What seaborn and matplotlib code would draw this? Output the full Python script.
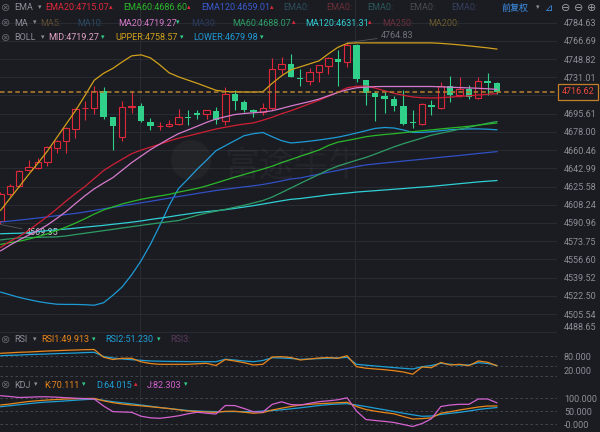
import matplotlib
matplotlib.use('Agg')
import matplotlib.pyplot as plt
from matplotlib.ticker import NullLocator
from matplotlib.patches import Ellipse
import numpy as np
import pandas as pd
import seaborn as sns

# ---- candle data (54 bars) ----
opens = [4592.35, 4618.87, 4625.82, 4641.07, 4643.65, 4648.71, 4662.51, 4668.85, 4680.79, 4701.2,
         4701.06, 4717.15, 4691.96, 4673.08, 4702.5, 4702.60, 4687.14, 4683.8, 4683.96, 4685.89,
         4692.35, 4696.22, 4695.54, 4698.44, 4688.11, 4714.91, 4707.16, 4699.41, 4696.79, 4701.06,
         4738.95, 4743.82, 4730.76, 4727.84, 4736.03, 4742.46, 4749.30, 4745.78, 4762.71, 4728.52,
         4715.59, 4712.29, 4709.78, 4703.28, 4687.53, 4685.60, 4704.25, 4701.06, 4722.97, 4713.26,
         4719.77, 4710.74, 4727.55, 4725.31]
highs = [4620.77, 4628.38, 4641.74, 4651.30, 4653.21, 4664.05, 4670.49, 4682.71, 4701.06, 4708.13,
         4722.68, 4721.03, 4692.26, 4708.13, 4717.15, 4706.19, 4691.40, 4687.14, 4689.75, 4700.09,
         4699.41, 4699.41, 4699.41, 4702.02, 4721.42, 4718.12, 4709.10, 4700.09, 4706.19, 4749.70,
         4750.67, 4753.60, 4738.95, 4739.93, 4743.40, 4751.26, 4757.82, 4764.83, 4763.40, 4728.80,
         4717.15, 4716.56, 4712.97, 4718.80, 4698.73, 4706.19, 4709.10, 4725.90, 4732.41, 4731.73,
         4723.65, 4731.73, 4735.05, 4726.28]
lows = [4589.51, 4616.30, 4625.53, 4640.12, 4642.70, 4644.89, 4657.71, 4657.71, 4672.12, 4689.75,
        4695.54, 4690.43, 4660.88, 4668.85, 4696.22, 4687.82, 4680.11, 4680.11, 4682.71, 4684.92,
        4684.92, 4690.43, 4690.43, 4685.89, 4684.92, 4699.41, 4697.47, 4692.35, 4694.57, 4699.41,
        4734.37, 4730.90, 4722.00, 4723.65, 4726.87, 4734.07, 4722.00, 4741.48, 4726.87, 4704.25,
        4688.11, 4696.22, 4697.76, 4684.92, 4681.75, 4684.92, 4693.89, 4700.09, 4706.87, 4711.71,
        4709.78, 4710.07, 4713.94, 4714.62]
closes = [4618.87, 4625.82, 4640.12, 4644.31, 4648.71, 4663.09, 4668.85, 4681.75, 4700.09, 4701.5,
          4717.15, 4692.35, 4683.28, 4702.02, 4702.8, 4688.11, 4683.28, 4684.1, 4685.89, 4691.96,
          4691.00, 4694.57, 4698.73, 4689.75, 4714.91, 4707.45, 4699.41, 4697.18, 4700.67, 4738.95,
          4743.82, 4731.15, 4729.20, 4736.03, 4743.14, 4749.70, 4746.37, 4762.71, 4729.20, 4715.59,
          4711.71, 4710.07, 4703.28, 4685.60, 4686.56, 4704.93, 4701.64, 4722.68, 4713.26, 4719.77,
          4711.71, 4727.84, 4725.60, 4716.62]

# ---- overlays ----
boll_upper = [4602.75, 4614.13, 4625.52, 4636.96, 4647.95, 4659.44, 4672.41, 4685.40, 4698.44, 4712.97,
              4728.03, 4734.85, 4739.73, 4746.07, 4751.94, 4752.92, 4749.99, 4743.14, 4735.34, 4731.44,
              4728.23, 4725.11, 4721.71, 4718.31, 4717.15, 4716.86, 4716.66, 4716.57, 4716.86, 4725.11,
              4732.41, 4738.27, 4741.19, 4744.12, 4747.05, 4753.90, 4760.27, 4764.18, 4764.67, 4764.67,
              4764.67, 4764.67, 4764.67, 4764.67, 4764.67, 4764.67, 4764.67, 4764.18, 4763.50, 4762.71,
              4761.73, 4760.75, 4759.76, 4758.57]
boll_lower = [4525.98, 4523.47, 4520.96, 4519.01, 4517.16, 4515.76, 4514.65, 4514.46, 4514.46, 4514.18,
              4513.72, 4516.04, 4523.01, 4530.91, 4542.10, 4555.20, 4570.67, 4588.57, 4607.48, 4623.63,
              4632.68, 4642.22, 4650.82, 4659.92, 4664.72, 4669.53, 4674.33, 4676.25, 4677.42, 4673.36,
              4669.53, 4667.32, 4668.08, 4669.05, 4670.20, 4671.45, 4672.88, 4674.81, 4676.93, 4679.15,
              4681.36, 4682.23, 4681.75, 4679.82, 4677.51, 4677.51, 4678.18, 4679.15, 4680.11, 4680.50,
              4680.88, 4680.88, 4680.59, 4679.98]
ma20 = [4564.57, 4569.92, 4574.91, 4579.42, 4583.86, 4589.04, 4595.19, 4601.81, 4609.38, 4616.69,
        4623.35, 4628.86, 4634.10, 4641.26, 4648.43, 4654.64, 4660.88, 4666.16, 4671.45, 4676.25,
        4679.82, 4683.47, 4687.24, 4690.43, 4692.63, 4694.76, 4695.73, 4696.51, 4697.18, 4698.44,
        4700.67, 4703.09, 4705.22, 4707.35, 4709.78, 4712.97, 4716.08, 4718.80, 4720.74, 4721.42,
        4721.91, 4722.00, 4722.00, 4722.00, 4722.00, 4722.00, 4722.00, 4721.71, 4721.32, 4720.93,
        4720.64, 4720.25, 4719.77, 4719.27]
ema20 = [4567.85, 4573.50, 4578.19, 4583.86, 4590.46, 4597.07, 4604.17, 4611.76, 4618.87, 4625.53,
         4633.15, 4640.79, 4646.51, 4651.78, 4657.04, 4660.40, 4663.28, 4666.16, 4669.24, 4671.93,
         4674.04, 4676.25, 4678.57, 4680.78, 4682.51, 4684.15, 4685.60, 4686.66, 4689.27, 4692.15,
         4695.54, 4698.44, 4701.83, 4705.22, 4708.62, 4712.48, 4716.37, 4720.74, 4722.20, 4722.49,
         4720.45, 4717.83, 4715.40, 4713.46, 4711.81, 4711.04, 4710.84, 4711.04, 4711.71, 4712.29,
         4712.97, 4713.75, 4714.43, 4715.07]
ema60 = [4570.67, 4572.27, 4573.69, 4575.66, 4578.00, 4580.74, 4583.76, 4587.06, 4590.83, 4594.90,
         4599.34, 4603.23, 4606.16, 4609.00, 4611.28, 4613.37, 4615.08, 4616.59, 4618.11, 4620.21,
         4622.01, 4623.82, 4626.19, 4628.96, 4631.72, 4634.48, 4637.06, 4639.64, 4642.22, 4645.07,
         4648.43, 4651.49, 4654.54, 4657.52, 4660.59, 4664.91, 4668.08, 4669.72, 4671.45, 4673.36,
         4674.52, 4675.48, 4676.25, 4677.22, 4678.18, 4679.15, 4679.92, 4680.88, 4681.75, 4682.51,
         4683.47, 4684.53, 4685.60, 4686.60]
ma60 = [4574.91, 4575.94, 4576.88, 4577.16, 4577.35, 4577.63, 4577.82, 4578.67, 4579.99, 4581.21,
        4582.44, 4583.67, 4584.89, 4586.21, 4587.44, 4588.66, 4589.89, 4591.02, 4592.16, 4593.29,
        4595.66, 4598.20, 4600.38, 4602.09, 4603.89, 4605.78, 4607.77, 4609.95, 4612.23, 4615.55,
        4619.82, 4624.20, 4628.57, 4632.87, 4637.15, 4641.55, 4645.07, 4647.95, 4650.73, 4653.41,
        4656.66, 4660.11, 4663.56, 4666.64, 4669.34, 4672.02, 4674.81, 4676.74, 4678.66, 4680.59,
        4682.51, 4684.44, 4686.37, 4688.07]
ema120 = [4591.69, 4592.73, 4593.67, 4594.62, 4595.66, 4596.69, 4597.82, 4598.96, 4600.00, 4601.33,
          4602.85, 4604.36, 4605.78, 4607.20, 4608.62, 4610.04, 4611.47, 4612.99, 4614.51, 4616.02,
          4617.45, 4618.97, 4620.40, 4621.82, 4622.97, 4624.11, 4625.24, 4626.29, 4627.53, 4629.14,
          4630.96, 4632.77, 4633.82, 4635.62, 4637.44, 4639.25, 4640.98, 4642.79, 4644.60, 4646.22,
          4647.18, 4648.14, 4649.00, 4649.96, 4650.82, 4651.68, 4652.64, 4653.59, 4654.45, 4655.31,
          4656.27, 4657.23, 4658.10, 4659.01]
ma120 = [4580.74, 4581.02, 4581.21, 4581.87, 4582.72, 4583.67, 4584.52, 4585.18, 4586.03, 4586.97,
         4587.81, 4588.66, 4589.70, 4590.64, 4591.69, 4592.82, 4594.24, 4595.47, 4596.78, 4598.20,
         4599.43, 4600.76, 4601.71, 4602.56, 4603.51, 4604.74, 4606.06, 4607.39, 4608.91, 4610.43,
         4611.95, 4613.37, 4614.13, 4615.27, 4616.40, 4617.63, 4618.49, 4619.35, 4620.30, 4620.97,
         4621.63, 4622.30, 4622.97, 4623.63, 4624.40, 4625.06, 4625.72, 4626.58, 4627.43, 4628.29,
         4629.14, 4630.00, 4630.67, 4631.31]

# ---- oscillators ----
rsi1 = [88.2, 89.8, 91.3, 92.2, 93.7, 95.2, 96.2, 97.4, 98.3, 99.2, 99.8, 76.3, 69.3, 73.0, 73.0,
        62.3, 57.1, 54.7, 54.7, 54.7, 54.7, 56.2, 57.7, 51.0, 69.3, 64.8, 59.6, 52.6, 54.7, 77.0,
        77.9, 75.4, 67.8, 70.9, 73.9, 75.4, 73.0, 80.9, 47.4, 42.8, 40.4, 38.2, 35.2, 31.2, 24.5,
        46.5, 44.3, 60.2, 52.6, 54.7, 50.4, 64.8, 60.8, 49.9]
rsi2 = [80.9, 82.1, 83.0, 84.3, 85.2, 86.1, 87.3, 88.2, 89.1, 90.4, 91.3, 78.5, 73.9, 70.9, 68.7,
        66.9, 64.8, 64.1, 63.5, 63.2, 62.9, 62.6, 62.6, 62.6, 70.2, 67.8, 64.8, 62.6, 66.3, 74.8,
        73.9, 72.4, 69.9, 70.9, 72.1, 73.3, 73.9, 76.0, 54.7, 52.0, 49.5, 47.1, 44.6, 42.5, 40.4,
        47.4, 51.0, 57.7, 54.7, 52.6, 52.6, 59.6, 57.1, 51.2]
k_vals = [73.9, 77.8, 82.9, 87.5, 90.7, 93.4, 95.3, 97.3, 98.4, 99.2, 99.6, 90.3, 82.9, 77.8, 73.9,
          70.8, 67.3, 63.8, 60.3, 55.3, 50.6, 48.6, 46.7, 45.5, 49.4, 49.8, 45.9, 42.0, 44.4, 54.5,
          61.5, 68.1, 73.9, 76.7, 79.0, 80.9, 82.9, 84.4, 68.1, 56.4, 49.8, 44.4, 39.7, 29.2, 19.5,
          21.0, 24.1, 42.0, 47.9, 54.5, 60.3, 66.1, 70.0, 70.1]
d_vals = [67.3, 71.2, 75.1, 79.0, 82.9, 85.6, 87.5, 89.9, 92.6, 94.9, 96.9, 92.2, 86.8, 82.5, 78.6,
          73.9, 69.3, 64.2, 59.9, 56.4, 52.5, 50.6, 49.0, 48.2, 48.2, 48.2, 48.2, 48.2, 50.2, 52.5,
          55.3, 59.1, 63.0, 67.3, 72.0, 75.5, 77.8, 79.0, 73.9, 68.1, 61.5, 55.3, 48.6, 42.0, 35.8,
          30.0, 31.1, 37.0, 41.6, 45.5, 50.6, 56.4, 60.7, 64.0]
j_vals = [110.1, 107.0, 103.1, 104.3, 105.8, 105.8, 104.3, 102.3, 100.4, 98.8, 97.3, 70.0, 48.2, 46.7,
          45.5, 30.4, 24.1, 22.2, 26.5, 31.9, 39.7, 45.9, 42.0, 38.9, 72.0, 71.6, 60.3, 47.5, 46.3,
          76.3, 86.4, 75.5, 73.9, 80.5, 86.8, 90.3, 94.2, 101.9, 50.6, 17.5, 13.6, 10.1, 5.8, -1.9,
          -9.7, 1.9, 20.6, 68.1, 73.9, 76.7, 76.7, 97.3, 97.3, 82.3]

price_ticks = [4784.63, 4766.69, 4748.82, 4731.01, 4695.61, 4678.00, 4660.46, 4642.99, 4625.58,
               4608.24, 4590.96, 4573.75, 4556.60, 4539.52, 4522.50, 4505.54, 4488.65]
hidden_tick = 4713.27
last_price = 4716.62
max_label = '4764.83'
min_label = '4569.35'

W, H = 600, 432
bg = '#1b1c21'
grid_c = '#2a2c33'
txt_c = '#8c8f98'
red = '#e0283c'
green = '#30cf8a'

sns.set_theme(style='dark', rc={'axes.facecolor': bg, 'figure.facecolor': bg,
                                'axes.edgecolor': bg, 'axes.grid': False})
plt.rcParams['font.family'] = ['Roboto', 'DejaVu Sans', 'Noto Sans CJK SC']

fig = plt.figure(figsize=(6, 4.32), dpi=100)
pw = 557 / W


def rect(top, bottom):
    return [0, 1 - bottom / H, pw, (bottom - top) / H]


ax = fig.add_axes(rect(0, 334))
ax_rsi = fig.add_axes(rect(334, 378))
ax_kdj = fig.add_axes(rect(378, 432))

idx = np.arange(len(opens))
df = pd.DataFrame({'o': opens, 'h': highs, 'l': lows, 'c': closes}, index=idx)

for a in (ax, ax_rsi, ax_kdj):
    a.set_facecolor(bg)
    for s in a.spines.values():
        s.set_visible(False)
    a.set_xlim(-0.053, 59.4)
    a.set_xticks([])
    for xv in (14.89, 37.84):
        a.axvline(xv, color=grid_c, lw=0.7, zorder=0)

# ---- main panel ----
ax.set_yscale('log')
ax.set_ylim(4487.0, 4807.0)
for t in price_ticks + [hidden_tick]:
    ax.axhline(t, color=grid_c, lw=0.7, zorder=0)

bw = 0.68
for i, r in df.iterrows():
    if r.c >= r.o:
        ax.bar(i, r.c - r.o, bottom=r.o, width=bw, facecolor=bg, edgecolor=red, lw=0.8, zorder=3)
        ax.vlines(i, r.c, r.h, color=red, lw=0.8, zorder=3)
        ax.vlines(i, r.l, r.o, color=red, lw=0.8, zorder=3)
    else:
        ax.vlines(i, r.l, r.h, color=green, lw=0.8, zorder=3)
        ax.bar(i, r.o - r.c, bottom=r.c, width=bw, color=green, lw=0, zorder=3)

lines = [(boll_upper, '#d1a01c'), (boll_lower, '#1e9ad6'), (ma120, '#2fcfd4'),
         (ema120, '#3050c4'), (ma60, '#2e9c66'), (ema60, '#2ab82a'),
         (ema20, '#cf1f35'), (ma20, '#d67bcc')]
for vals, col in lines:
    sns.lineplot(x=idx, y=vals, ax=ax, color=col, lw=0.9, legend=False, zorder=4)

ax.axhline(last_price, color='#b5812f', lw=1.1, ls=(0, (3, 2)), zorder=5)

ax.yaxis.tick_right()
ax.set_yticks(price_ticks)
ax.set_yticklabels([f'{t:.2f}' for t in price_ticks])
ax.yaxis.set_minor_locator(NullLocator())
ax.tick_params(axis='y', length=0, pad=5, labelsize=6.5, labelcolor=txt_c)
ax.get_yticklabels()[-1].set_va('bottom')
ax.set_xlabel('')
ax.set_ylabel('')

imax = int(np.argmax(highs))
ax.annotate(max_label, xy=(imax, highs[imax]), xytext=(24, 5), textcoords='offset points',
            color='#6f727b', fontsize=6.5, va='center',
            arrowprops=dict(arrowstyle='-', color='#55585f', lw=0.6, shrinkA=0, shrinkB=0))
ax.annotate(min_label, xy=(0, lows[0]), xytext=(18, -6), textcoords='offset points',
            color='#c9cbd0', fontsize=6.5, va='center',
            arrowprops=dict(arrowstyle='-', color='#55585f', lw=0.6, shrinkA=0, shrinkB=0))

# faint watermark
fig.patches.append(Ellipse((191 / W, 1 - 160 / H), 40 / W, 40 / H, transform=fig.transFigure,
                           fc='white', alpha=0.035, lw=0))
fig.text(294 / W, 1 - 166 / H, '富途牛牛', color='white', alpha=0.04, fontsize=25,
         ha='center', va='center', family=['Noto Sans CJK SC'])

fig.text(578 / W, 1 - 92 / H, f'{last_price:.2f}', color='#ef4a3c', fontsize=6.5,
         ha='center', va='center',
         bbox=dict(boxstyle='square,pad=0.35', fc=bg, ec='#c47f2c', lw=0.9))

# ---- RSI panel ----
ax_rsi.set_ylim(12.9, 147.1)
for lv in (80, 50, 20):
    ax_rsi.axhline(lv, color='#4a4c54', lw=0.6, ls=(0, (3, 3)), zorder=0)
sns.lineplot(x=idx, y=rsi2, ax=ax_rsi, color='#1e9fd6', lw=0.9, legend=False)
sns.lineplot(x=idx, y=rsi1, ax=ax_rsi, color='#e8861c', lw=0.9, legend=False)
ax_rsi.yaxis.tick_right()
ax_rsi.set_yticks([80, 20])
ax_rsi.set_yticklabels(['80.000', '20.000'])
ax_rsi.tick_params(axis='y', length=0, pad=5, labelsize=6.5, labelcolor=txt_c)
ax_rsi.get_yticklabels()[-1].set_va('bottom')
ax_rsi.set_xlabel('')
ax_rsi.set_ylabel('')

# ---- KDJ panel ----
ax_kdj.set_ylim(-31.1, 179.0)
for lv in (100, 50, 0):
    ax_kdj.axhline(lv, color='#4a4c54', lw=0.6, ls=(0, (3, 3)), zorder=0)
sns.lineplot(x=idx, y=d_vals, ax=ax_kdj, color='#1e9fd6', lw=0.9, legend=False)
sns.lineplot(x=idx, y=k_vals, ax=ax_kdj, color='#e8861c', lw=0.9, legend=False)
sns.lineplot(x=idx, y=j_vals, ax=ax_kdj, color='#d462d0', lw=0.9, legend=False)
ax_kdj.yaxis.tick_right()
ax_kdj.set_yticks([100, 50, 0])
ax_kdj.set_yticklabels(['100.000', '50.000', '-0.000'])
ax_kdj.tick_params(axis='y', length=0, pad=5, labelsize=6.5, labelcolor=txt_c)
ax_kdj.set_xlabel('')
ax_kdj.set_ylabel('')

# ---- header rows ----
up, dn = '▴', '▾'
headers = [
    (8, [('EMA', 14, txt_c), (dn, 38, txt_c), ('EMA20:4715.07', 45, '#e0283c'), (up, 109, red),
         ('EMA60:4686.60', 123, '#2ab82a'), (up, 187, red), ('EMA120:4659.01', 201, '#3a5ad0'),
         (up, 270, red), ('EMA0:', 283, '#2b4f5c'), ('EMA0:', 326, '#6a2f36'),
         ('EMA0:', 367, '#2b5a5a'), ('EMA0:', 409, '#4a4b50'), ('EMA0:', 451, '#34405e')]),
    (23, [('MA', 14, txt_c), (dn, 33, txt_c), ('MA5:', 40, '#5f4d33'), ('MA10:', 77, '#2c4a63'),
          ('MA20:4719.27', 118, '#d67bcc'), (dn, 176, green), ('MA30:', 191, '#2b3b5e'),
          ('MA60:4688.07', 232, '#2e9c66'), (up, 292, red), ('MA120:4631.31', 305, '#2fcfd4'),
          (up, 368, red), ('MA250:', 382, '#6a2f3c'), ('MA200:', 428, '#6a5a2c')]),
    (38, [('BOLL', 14, txt_c), (dn, 41, txt_c), ('MID:4719.27', 48, '#e2a3c4'), (dn, 101, green),
          ('UPPER:4758.57', 115, '#d1a01c'), (dn, 180, green), ('LOWER:4679.98', 193, '#1e9ad6'),
          (dn, 260, green)]),
    (340, [('RSI', 14, txt_c), (dn, 33, txt_c), ('RSI1:49.913', 41, '#e8861c'), (dn, 92, green),
           ('RSI2:51.230', 105, '#1e9fd6'), (dn, 157, green), ('RSI3:', 170, '#5a3a5e')]),
    (385, [('KDJ', 14, txt_c), (dn, 34, txt_c), ('K:70.111', 44, '#e8861c'), (dn, 82, green),
           ('D:64.015', 96, '#1e9fd6'), (up, 134, red), ('J:82.303', 147, '#d462d0'),
           (dn, 184, green)]),
]
for y, items in headers:
    fig.text(1 / W, 1 - y / H, '⊗', color='#60636b', fontsize=8, va='center')
    for s, x, col in items:
        fs = 5 if s in (up, dn) else 6.5
        fig.text(x / W, 1 - y / H, s, color=col, fontsize=fs, va='center')

fig.text(501 / W, 1 - 8 / H, '前复权', color='#3d8fe8', fontsize=6.5, va='center',
         family=['Noto Sans CJK SC'])
fig.text(536 / W, 1 - 8 / H, dn, color=txt_c, fontsize=5, va='center')
fig.text(545 / W, 1 - 8 / H, '⊿', color='#3d8fe8', fontsize=7, va='center')
for x, s in ((561, '⊖'), (574, '⊖'), (587, '⊕')):
    fig.text(x / W, 1 - 8 / H, s, color='#9a9ca4', fontsize=8, va='center')

fig.savefig('out.png', dpi=100, facecolor=bg)
